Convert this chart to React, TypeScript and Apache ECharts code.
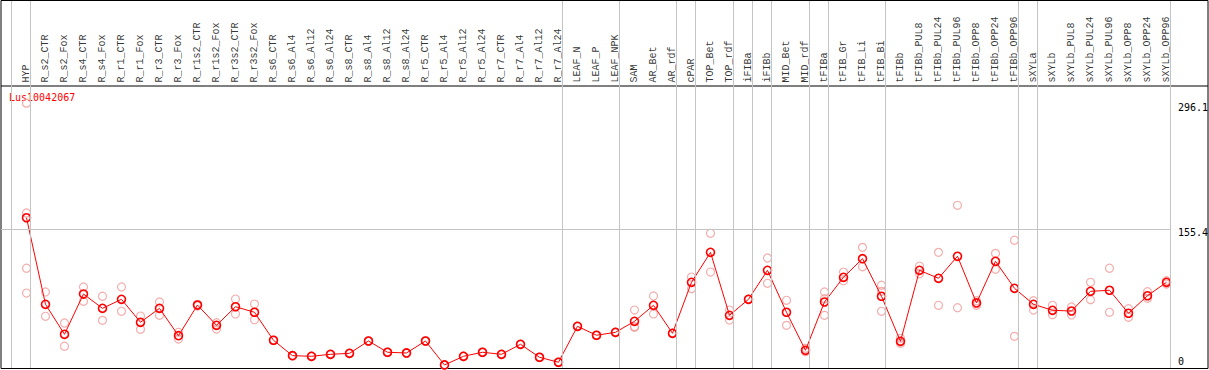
import React, { useEffect, useRef } from "react";
import * as echarts from "echarts";

const categories = [
  "HYP", "R_s2_CTR", "R_s2_Fox", "R_s4_CTR", "R_s4_Fox", "R_r1_CTR", "R_r1_Fox", "R_r3_CTR", "R_r3_Fox",
  "R_r1s2_CTR", "R_r1s2_Fox", "R_r3s2_CTR", "R_r3s2_Fox", "R_s6_CTR", "R_s6_Al4", "R_s6_Al12", "R_s6_Al24",
  "R_s8_CTR", "R_s8_Al4", "R_s8_Al12", "R_s8_Al24", "R_r5_CTR", "R_r5_Al4", "R_r5_Al12", "R_r5_Al24",
  "R_r7_CTR", "R_r7_Al4", "R_r7_Al12", "R_r7_Al24", "LEAF_N", "LEAF_P", "LEAF_NPK", "SAM", "AR_Bet", "AR_rdf",
  "cPAR", "TOP_Bet", "TOP_rdf", "iFIBa", "iFIBb", "MID_Bet", "MID_rdf", "tFIBa", "tFIB_Gr", "tFIB_Li", "tFIB_Bi",
  "tFIBb", "tFIBb_PUL8", "tFIBb_PUL24", "tFIBb_PUL96", "tFIBb_OPP8", "tFIBb_OPP24", "tFIBb_OPP96", "sXYLa",
  "sXYLb", "sXYLb_PUL8", "sXYLb_PUL24", "sXYLb_PUL96", "sXYLb_OPP8", "sXYLb_OPP24", "sXYLb_OPP96",
];

const meanValues = [
  168.0, 71.2, 37.7, 82.7, 66.7, 76.8, 51.1, 66.7, 36.1, 70.4, 47.7, 68.5, 62.3, 31.0, 13.8, 13.1, 15.3,
  16.4, 30.2, 17.6, 16.8, 30.2, 3.4, 13.1, 17.6, 15.3, 26.5, 12.0, 6.4, 46.6, 36.6, 39.9, 52.2, 70.1, 38.8,
  95.8, 129.3, 58.9, 76.8, 109.2, 62.3, 19.8, 73.8, 101.4, 122.2, 80.2, 29.8, 109.2, 100.3, 124.9, 72.7,
  119.3, 89.1, 71.2, 64.5, 63.7, 85.7, 86.9, 61.2, 80.8, 95.8,
];

const replicateValues: number[][] = [
  [296.1, 173.3, 111.5, 83.8], [85.0, 57.8], [50.3, 24.3], [90.6, 74.6], [80.2, 53.3], [90.6, 63.4],
  [58.1, 43.3], [73.8, 58.9], [39.9, 32.4], [71.2, 69.3], [50.6, 43.6], [77.1, 60.4], [71.5, 54.0],
  [31.3, 30.7], [14.1, 13.5], [13.4, 12.8], [15.6, 15.0], [16.7, 16.1], [30.5, 29.9], [17.9, 17.3],
  [17.1, 16.5], [30.5, 29.9], [3.7, 3.1], [13.4, 12.8], [17.9, 17.3], [15.6, 15.0], [26.8, 26.2],
  [12.3, 11.7], [6.7, 6.1], [46.9, 46.3], [36.9, 36.3], [40.2, 39.6], [64.8, 45.5, 46.2], [80.5, 60.4],
  [39.1, 38.5], [101.7, 88.7], [150.6, 107.3], [64.8, 53.7], [77.1, 76.5], [123.0, 94.7], [75.7, 47.7],
  [22.0, 18.2], [85.0, 58.9, 77.5], [107.3, 97.6], [134.9, 113.2], [92.5, 85.7, 63.4], [33.2, 27.6],
  [114.0, 105.4], [129.3, 70.1], [181.9, 67.4], [70.1, 75.2], [128.2, 110.3], [142.8, 35.4], [75.2, 64.8],
  [70.1, 59.6], [68.2, 59.3], [95.8, 76.4], [111.5, 62.3], [66.3, 56.7], [85.3, 77.9], [93.9, 97.7],
];

const yTickUpper = [155.4, 296.1];
const yTickLower = [0];
const referenceLine = 155.4;
// index of the last category in each group; a separator follows each
const groupEnds = [-1, 0, 28, 31, 34, 35, 37, 38, 39, 41, 42, 45, 52, 53, 60];
const geneName = "Lus10042067";

const FONT = "'DejaVu Sans Mono', monospace";
const LABEL_FONT = "'Liberation Mono', 'DejaVu Sans Mono', monospace";

export default function App() {
  const ref = useRef<HTMLDivElement>(null);
  useEffect(() => {
    if (!ref.current) return;
    const chart = echarts.init(ref.current, undefined, { renderer: "svg" });
    const headerLevel = 315.3;
    const yMax = 410.3;
    const yAxisBase = {
      type: "value",
      min: 0,
      max: yMax,
      position: "right",
      axisLine: { show: false },
      axisTick: { show: false },
      splitLine: { show: false },
    };
    chart.setOption({
      animation: false,
      grid: { left: 1, top: 1, width: 1170, height: 367, containLabel: false, outerBoundsMode: "none" },
      xAxis: { type: "value", min: -1.342, max: 60.237, show: false },
      yAxis: [
        {
          ...yAxisBase,
          axisLabel: {
            customValues: yTickUpper,
            margin: 7,
            align: "left",
            verticalAlign: "top",
            lineHeight: 8,
            fontFamily: FONT,
            fontSize: 10,
            color: "#000",
          },
        },
        {
          ...yAxisBase,
          axisLabel: {
            customValues: yTickLower,
            margin: 7,
            align: "left",
            verticalAlign: "bottom",
            lineHeight: 14,
            fontFamily: FONT,
            fontSize: 10,
            color: "#000",
          },
        },
      ],
      series: [
        {
          type: "scatter",
          name: "labels",
          silent: true,
          z: 1,
          symbolSize: 1,
          itemStyle: { color: "rgba(0,0,0,0)" },
          data: categories.map((c, i) => [i, headerLevel]),
          label: {
            show: true,
            formatter: (p: any) => categories[p.dataIndex],
            position: "top",
            distance: 3,
            rotate: 90,
            align: "left",
            verticalAlign: "middle",
            fontFamily: LABEL_FONT,
            fontSize: 10,
            color: "#000",
          },
          markLine: {
            silent: true,
            symbol: ["none", "none"],
            label: { show: false },
            lineStyle: { color: "#c4c4c4", width: 1, type: "solid" },
            data: [
              ...groupEnds.map((g) => ({ xAxis: g + 0.22 })),
              { yAxis: referenceLine },
            ],
          },
        },
        {
          type: "scatter",
          name: "replicates",
          z: 2,
          symbol: "circle",
          symbolSize: 8,
          itemStyle: { color: "rgba(0,0,0,0)", borderColor: "#f09a9a", borderWidth: 1.2 },
          data: replicateValues.flatMap((reps, i) => reps.map((v) => [i, v])),
        },
        {
          type: "line",
          name: "mean",
          z: 3,
          symbol: "circle",
          symbolSize: 8,
          itemStyle: { color: "rgba(255,255,255,0)", borderColor: "#ff0000", borderWidth: 1.6 },
          lineStyle: { color: "#ff0000", width: 1 },
          data: meanValues.map((v, i) => [i, v]),
        },
      ],
      graphic: [
        {
          type: "rect",
          shape: { x: 1, y: 0.5, width: 1207, height: 368 },
          style: { fill: "none", stroke: "#000", lineWidth: 1 },
          silent: true,
        },
        {
          type: "line",
          shape: { x1: 1, y1: 86, x2: 1208, y2: 86 },
          style: { stroke: "#000", lineWidth: 1 },
          silent: true,
        },
        {
          type: "text",
          x: 9,
          y: 97,
          style: {
            text: geneName,
            fill: "#ff0000",
            font: `10px ${FONT}`,
            verticalAlign: "middle",
            align: "left",
          },
          silent: true,
        },
      ],
    });
    return () => chart.dispose();
  }, []);
  return (
    <div
      ref={ref}
      style={{ position: "fixed", left: 0, top: 0, width: 1209, height: 370, background: "#fff" }}
    />
  );
}
